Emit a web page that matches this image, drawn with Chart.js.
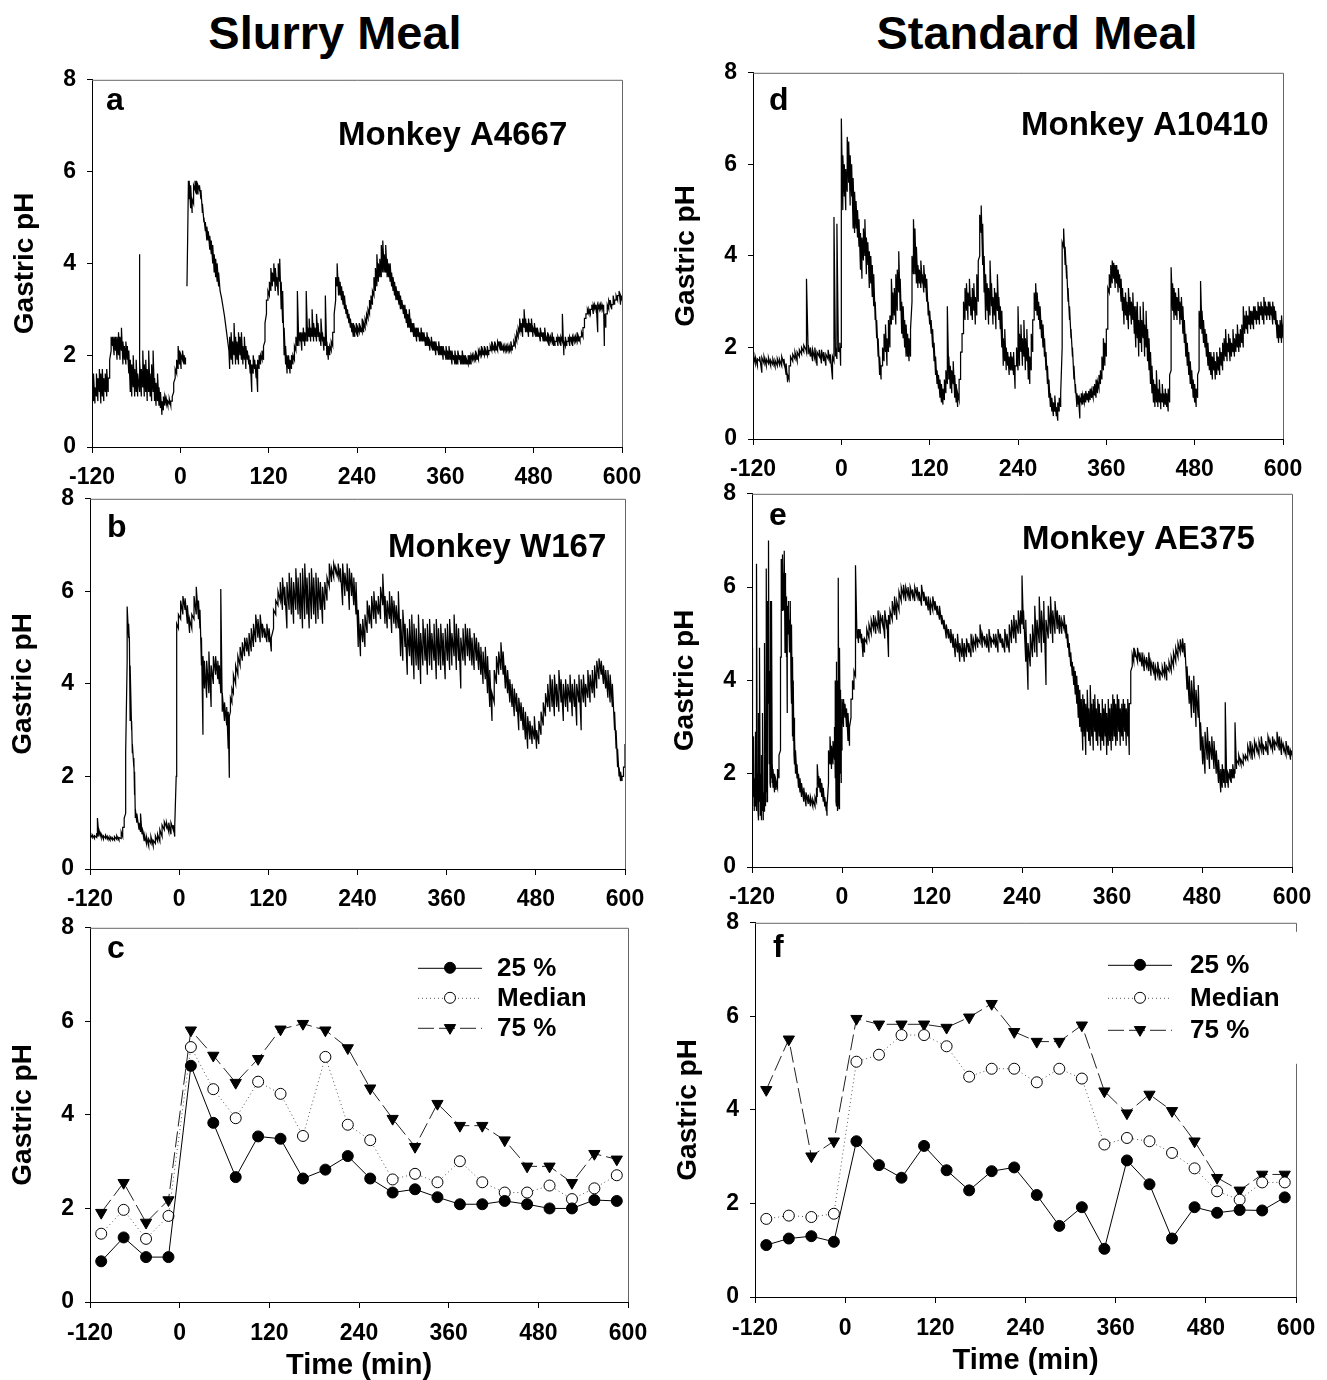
<!DOCTYPE html>
<html>
<head>
<meta charset="utf-8">
<script src="https://cdn.jsdelivr.net/npm/chart.js@4.4.1/dist/chart.umd.min.js"></script>
<style>
  body { margin: 0; background: #fff; width: 1327px; height: 1380px; position: relative; overflow: hidden; }
  .head { position: absolute; top: 9px; width: 600px; text-align: center; font: bold 47px 'Liberation Sans', Arial, sans-serif; line-height: 47px; color: #000; }
  canvas { position: absolute; }
</style>
</head>
<body>
<div class="head" style="left:35px">Slurry Meal</div>
<div class="head" style="left:737px">Standard Meal</div>
<script>
// axis ticks
const xTickValues = [-120, 0, 120, 240, 360, 480, 600];
const yTickValues = [0, 2, 4, 6, 8];

// sample times of the quartile curves (min)
const quartileTimes = [-105, -75, -45, -15, 15, 45, 75, 105, 135, 165, 195, 225, 255, 285, 315, 345, 375, 405, 435, 465, 495, 525, 555, 585];
const quartileLabels = ['25 %', 'Median', '75 %'];

// panel c - slurry meal
const slurry25 = [0.87, 1.38, 0.96, 0.96, 5.05, 3.83, 2.67, 3.54, 3.49, 2.64, 2.83, 3.12, 2.64, 2.34, 2.41, 2.24, 2.09, 2.09, 2.16, 2.09, 2.0, 2.0, 2.18, 2.16];
const slurryMedian = [1.46, 1.97, 1.35, 1.84, 5.45, 4.55, 3.93, 4.71, 4.45, 3.55, 5.24, 3.79, 3.46, 2.62, 2.74, 2.56, 3.01, 2.56, 2.34, 2.34, 2.49, 2.2, 2.43, 2.71];
const slurry75 = [1.91, 2.55, 1.7, 2.18, 5.81, 5.27, 4.69, 5.2, 5.83, 5.95, 5.81, 5.43, 4.57, 3.92, 3.32, 4.24, 3.77, 3.77, 3.46, 2.9, 2.9, 2.55, 3.17, 3.05];

// panel f - standard meal
const standard25 = [1.11, 1.25, 1.3, 1.18, 3.33, 2.82, 2.55, 3.23, 2.71, 2.28, 2.69, 2.77, 2.18, 1.52, 1.92, 1.03, 2.92, 2.41, 1.25, 1.92, 1.8, 1.86, 1.85, 2.13];
const standardMedian = [1.67, 1.74, 1.71, 1.78, 5.03, 5.18, 5.6, 5.6, 5.36, 4.71, 4.88, 4.88, 4.59, 4.88, 4.67, 3.26, 3.4, 3.33, 3.08, 2.75, 2.26, 2.08, 2.45, 2.45];
const standard75 = [4.43, 5.51, 3.01, 3.33, 5.95, 5.83, 5.83, 5.83, 5.76, 5.98, 6.27, 5.67, 5.46, 5.46, 5.81, 4.4, 3.93, 4.33, 3.98, 3.33, 2.55, 2.28, 2.62, 2.62];

// pH recordings: [time, low, high] of the noise band, [time, value], or [time, null] for a gap
const traceA4667 = [
[-120,1.1,1.4],[-118,1.0,1.6],[-116,0.95,1.3],[-114,1.1,1.6],[-112,1.0,1.5],[-110,1.2,1.7],[-108,0.95,1.6],[-106,1.1,1.7],[-104,1.0,1.5],[-102,1.2,1.6],[-100,1.1,1.7],[-98,1.2,1.5],
[-96,1.5,1.9],[-94,2.1,2.4],[-92,2.2,2.4],[-90,2.0,2.4],[-88,2.1,2.4],[-86,1.9,2.4],[-84,2.0,2.5],[-82,1.9,2.4],[-80,2.1,2.6],[-78,1.8,2.3],[-76,1.9,2.2],[-74,1.8,2.3],[-72,1.9,2.2],[-70,1.6,2.1],
[-68,1.2,1.9],[-66,1.1,1.8],[-64,1.3,2.0],[-62,1.1,1.7],[-60,1.2,1.9],[-58,1.1,1.6],[-56,1.3,4.2],[-55,1.2,1.9],[-53,1.1,1.7],[-51,1.3,2.1],[-49,1.1,1.8],[-47,1.2,1.9],[-45,1.0,1.7],[-43,1.2,2.1],[-41,1.1,1.6],[-39,1.0,1.8],[-37,1.2,2.1],[-35,1.0,1.5],[-33,0.9,1.4],[-31,1.0,1.6],[-29,0.9,1.3],
[-27,0.85,1.2],[-25,0.7,1.0],[-23,0.8,1.1],[-21,0.9,1.1],[-19,0.95,1.05],[-17,0.9,1.0],[-15,0.95,1.05],[-13,0.9,1.0],[-11,1.0,1.1],
[-9,1.2,1.4],[-7,1.5,1.7],[-5,1.6,1.9],[-3,1.7,2.2],[-1,1.8,2.1],[1,1.7,2.0],[3,1.9,2.1],[5,1.8,2.0],[7,1.8,1.95],[8,null],
[9,3.5],[10,4.6],[11,5.8],[12,5.4,5.8],[14,5.2,5.7],[16,5.1,5.4],[18,5.3,5.7],[20,5.6,5.8],[22,5.5,5.8],[24,5.5,5.7],[26,5.6,5.7],[28,5.4,5.6],[30,5.1,5.3],[32,4.9,5.0],[34,4.7,4.9],[36,4.5,4.8],[38,4.5,4.7],[40,4.3,4.6],[42,4.2,4.5],[44,4.0,4.4],[46,3.8,4.2],[48,3.7,4.1],[50,3.6,4.0],[52,3.5,3.8],
[54,3.4],[56,3.25],[58,3.05],[60,2.85],[62,2.6],[64,2.35],[66,2.1],
[67,1.7,2.4],[69,1.9,2.5],[71,1.8,2.3],[73,2.0,2.7],[75,1.8,2.4],[77,1.9,2.3],[79,1.8,2.5],[81,2.0,2.4],[83,1.9,2.5],[85,1.8,2.2],[87,1.9,2.4],[89,1.7,2.2],[91,1.9,2.1],[93,1.8,2.0],
[95,1.6,1.9],[97,1.2,1.8],[99,1.6,2.0],[101,1.7,1.9],[103,1.5,1.8],[105,1.2,1.9],[107,1.7,2.0],[109,1.8,2.0],[111,1.9,2.1],[113,1.9,2.2],
[115,2.3,2.7],[117,2.9,3.2],[119,3.2,3.4],
[121,3.3,3.6],[123,3.4,3.9],[125,3.5,3.8],[127,3.6,4.0],[129,3.4,3.9],[131,3.5,3.7],[133,3.3,4.0],[135,3.6,4.1],[137,3.0,3.6],[139,2.7,3.4],
[141,2.0,2.6],[143,1.8,2.2],[145,1.6,2.0],[147,1.7,2.0],[149,1.6,1.9],[151,1.7,2.0],[153,1.8,2.0],[155,1.9,2.2],
[157,2.1,2.4],[159,2.2,3.4],[161,2.2,2.5],[163,2.3,2.5],[165,2.1,2.5],[167,2.3,2.6],[169,2.2,2.5],[171,2.3,3.4],[173,2.3,2.6],[175,2.4,2.8],[177,2.3,2.6],[179,2.4,3.0],[181,2.3,2.7],[183,2.4,2.6],[185,2.3,2.9],[187,2.4,2.7],[189,2.3,2.5],[191,2.2,2.8],[193,2.3,2.5],[195,2.1,2.4],[197,2.2,3.3],[199,2.0,2.3],[201,1.9,2.2],[203,2.0,2.2],[205,2.1,2.3],[207,2.2,2.5],[209,2.5,2.9],
[211,3.2,3.7],[213,3.5,4.0],[215,3.3,3.7],[217,3.3,3.6],[219,3.2,3.5],[221,3.1,3.4],[223,3.0,3.3],[225,2.9,3.1],[227,2.8,3.0],[229,2.7,2.9],[231,2.6,2.8],[233,2.5,2.7],[235,2.4,2.7],[237,2.4,2.6],[239,2.5,2.7],[241,2.4,2.6],[243,2.5,2.7],[245,2.5,2.6],[247,2.5,2.8],[249,2.5,2.7],[251,2.6,2.8],[253,2.7,2.9],
[255,2.8,3.0],[257,2.9,3.2],[259,3.0,3.3],[261,3.1,3.4],
[263,3.3,3.7],[265,3.4,3.9],[267,3.5,4.2],[269,3.6,4.0],[271,3.7,4.1],[273,3.7,4.4],[275,3.8,4.5],[277,3.8,4.2],[279,3.8,4.4],[281,3.7,4.1],[283,3.7,4.0],[285,3.6,4.0],[287,3.5,3.8],[289,3.4,3.7],
[291,3.3,3.6],[293,3.2,3.5],[295,3.2,3.4],[297,3.1,3.4],[299,3.0,3.3],[301,3.0,3.2],[303,2.9,3.1],[305,2.8,3.1],[307,2.7,3.0],[309,2.6,2.9],[311,2.6,3.0],[313,2.5,2.8],[315,2.5,2.7],[317,2.4,2.7],[319,2.4,2.6],[321,2.3,2.6],[323,2.4,2.6],[325,2.3,2.5],[327,2.3,2.6],[329,2.3,2.5],
[331,2.3,2.5],[333,2.2,2.4],[335,2.2,2.5],[337,2.2,2.4],[339,2.1,2.3],[341,2.2,2.4],[343,2.1,2.3],[345,2.1,2.3],[347,2.0,2.3],[349,2.1,2.2],[351,2.0,2.3],[353,2.0,2.2],[355,2.0,2.2],
[357,1.9,2.2],[359,2.0,2.1],[361,1.9,2.2],[363,1.9,2.1],[365,1.9,2.2],[367,1.9,2.1],[369,1.8,2.1],[371,1.9,2.0],[373,1.8,2.1],[375,1.8,2.0],[377,1.8,2.1],[379,1.9,2.0],[381,1.8,2.0],[383,1.8,2.1],[385,1.8,2.0],[387,1.8,2.0],[389,1.8,1.9],[391,1.8,2.0],[393,1.8,2.0],[395,1.8,2.0],[397,1.9,2.0],[399,1.9,2.0],[401,1.9,2.1],[403,1.9,2.0],[405,1.9,2.1],[407,2.0,2.1],[409,2.0,2.2],[411,2.0,2.1],
[413,2.0,2.2],[415,2.0,2.1],[417,2.0,2.2],[419,2.0,2.1],[421,2.1,2.2],[423,2.1,2.3],[425,2.1,2.2],[427,2.1,2.3],[429,2.1,2.2],[431,2.1,2.3],[433,2.2,2.3],[435,2.1,2.3],[437,2.1,2.2],[439,2.1,2.2],[441,2.1,2.2],[443,2.1,2.2],[445,2.1,2.2],[447,2.1,2.2],[449,2.1,2.3],[451,2.1,2.2],[453,2.2,2.3],[455,2.2,2.4],
[457,2.3,2.5],[459,2.4,2.6],[461,2.5,2.8],[463,2.5,2.7],[465,2.4,2.8],[467,2.6,3.0],[469,2.5,2.8],[471,2.5,2.7],[473,2.4,2.8],[475,2.5,2.7],[477,2.5,2.8],[479,2.4,2.6],[481,2.5,2.7],[483,2.4,2.6],
[485,2.4,2.6],[487,2.4,2.5],[489,2.3,2.6],[491,2.4,2.5],[493,2.3,2.5],[495,2.3,2.6],[497,2.3,2.4],[499,2.3,2.5],[501,2.2,2.4],[503,2.3,2.4],[505,2.3,2.5],[507,2.2,2.4],[509,2.2,2.3],[511,2.3,2.4],[513,2.2,2.4],[515,2.3,2.4],[517,2.2,2.4],[519,2.3,2.9],[521,2.0,2.3],
[523,2.2,2.4],[525,2.2,2.3],[527,2.3,2.4],[529,2.2,2.4],[531,2.3,2.4],[533,2.2,2.4],[535,2.3,2.4],[537,2.3,2.4],[539,2.3,2.5],[541,2.3,2.4],[543,2.3,2.4],[545,2.4,2.5],[547,2.4,2.6],
[549,2.6,2.8],[551,2.8,2.9],[553,2.9,3.0],[555,2.9,3.0],[557,2.9,3.0],[559,3.0,3.1],
[561,2.9,3.1],[563,3.0,3.1],[565,3.0,3.1],[567,2.5,3.1],[569,3.0,3.1],[571,3.0,3.1],[573,3.0,3.1],[575,3.0,3.1],[576,2.2,2.9],[578,2.6,2.9],
[580,2.9,3.1],[582,3.0,3.2],[584,3.1,3.2],[586,3.0,3.1],[588,3.1,3.3],[590,3.1,3.2],[592,3.2,3.3],[594,3.2,3.3],[596,3.3,3.4],[598,3.1,3.3],[600,3.2,3.3]
];

const traceW167 = [
[-120,0.7,0.75],[-117,0.68,0.74],[-114,0.66,0.72],[-111,0.68,0.78],[-110,0.7,1.1],[-108,0.7,0.85],[-105,0.68,0.76],[-102,0.65,0.72],[-99,0.66,0.73],[-96,0.64,0.7],[-93,0.62,0.7],[-90,0.63,0.68],[-87,0.62,0.7],[-84,0.64,0.72],[-81,0.62,0.68],[-78,0.66,0.8],[-76,0.7,0.9],
[-74,0.9,1.1],[-72,1.2,2.5],[-70,4.5,5.67],[-68,5.0,5.3],[-67,4.9,5.0],[-66,3.2,4.4],[-64,3.0,3.2],[-63,2.5,2.7],[-61,2.2,2.4],[-60,1.6,2.1],[-59,1.1,1.3],
[-57,1.0,1.2],[-54,0.85,1.0],[-52,0.8,1.2],[-50,0.75,0.9],[-47,0.6,0.75],[-44,0.55,0.7],
[-41,0.5,0.65],[-38,0.55,0.7],[-35,0.5,0.62],[-32,0.55,0.72],[-29,0.6,0.75],[-26,0.6,0.85],
[-23,0.7,0.95],[-20,0.85,1.02],[-17,0.9,1.0],[-14,0.8,1.0],[-11,0.75,1.0],[-8,0.85,0.95],[-6,0.7,0.9],
[-4,2.0,4.8],[-3,5.0,5.3],[-1,5.2,5.5],[2,5.4,5.8],[5,5.5,5.9],[8,5.6,5.85],[11,5.3,5.7],[14,5.1,5.4],[17,5.2,5.5],[20,5.4,5.9],[23,5.5,6.1],[26,5.4,5.8],[28,5.2,5.6],
[30,4.4,5.0],[32,2.9,4.6],[34,3.9,4.5],
[37,3.7,4.5],[40,3.8,4.7],[43,3.5,4.4],[46,4.0,4.6],[49,4.2,4.6],[52,4.1,4.5],[54,4.0,4.4],[56,3.8,6.05],[58,3.4,3.8],[61,3.2,3.6],[64,3.1,3.5],[66,2.6,3.4],[67.5,1.97,3.3],[69,3.4,3.7],
[71,3.6,3.9],[73,3.8,4.2],[76,4.0,4.4],[79,4.2,4.6],[82,4.4,4.8],
[85,4.5,4.9],[88,4.6,5.0],[91,4.7,5.0],[94,4.6,5.1],[97,4.7,5.2],[100,4.8,5.3],
[103,4.9,5.5],[106,5.0,5.4],[109,4.9,5.5],[112,5.0,5.3],[115,5.0,5.2],[118,4.9,5.3],[121,4.9,5.2],[124,4.7,5.0],
[127,5.2,5.6],[130,5.5,5.8],[133,5.7,6.0],[136,5.8,6.2],
[139,5.6,6.3],[142,5.7,6.1],[145,5.2,6.2],[148,5.6,6.4],[151,5.5,6.3],[154,5.3,6.2],[157,5.6,6.5],[160,5.5,6.3],[163,5.4,6.4],
[166,5.2,6.5],[169,5.4,6.6],[172,5.5,6.3],[175,5.2,6.4],[178,5.4,6.5],[181,5.5,6.3],[184,5.3,6.4],[187,5.4,6.3],[190,5.6,6.2],[193,5.3,6.1],[196,5.6,6.2],[199,5.8,6.3],[202,6.1,6.6],[205,6.2,6.5],
[208,6.3,6.6],[211,6.4,6.5],[214,6.3,6.6],[217,6.2,6.5],[220,5.7,6.6],[223,5.9,6.4],[226,6.0,6.6],[229,5.6,6.5],[232,5.9,6.4],[235,5.7,6.3],[238,5.5,6.2],
[241,4.8,5.6],[244,4.6,5.3],[247,4.9,5.4],[250,4.8,5.5],
[253,5.1,5.8],[256,5.3,5.7],[259,5.2,5.9],[262,5.4,6.0],[265,5.3,5.8],[268,5.5,5.9],[271,5.4,6.1],[274,5.7,6.38],
[277,5.3,5.9],[280,5.2,5.8],[283,5.4,6.0],[286,5.1,5.9],[289,5.3,5.8],[292,5.2,5.7],[295,5.2,6.0],
[298,4.6,5.4],[301,4.5,5.6],[304,4.8,5.3],[307,4.2,5.2],[310,4.6,5.4],[313,4.4,5.5],
[316,4.1,5.3],[319,4.4,5.2],[322,4.3,5.5],[325,4.0,5.1],[328,4.4,5.4],[331,4.5,5.2],[334,4.2,5.3],[337,4.4,5.4],[340,4.3,5.1],[343,4.5,5.3],[346,4.1,5.4],[349,4.4,5.2],[352,4.3,5.3],[355,4.4,5.1],[358,4.1,5.2],[361,4.5,5.3],[364,4.3,5.4],[367,4.4,5.1],[370,4.6,5.5],[373,4.3,5.3],[376,4.5,5.2],[379,3.9,5.0],[382,4.5,5.2],[385,4.4,5.3],[388,4.6,5.2],
[391,4.5,5.2],[394,4.4,5.0],[397,4.3,5.1],[400,4.5,5.0],[403,4.3,4.9],[406,4.2,4.8],[409,4.0,4.7],[412,4.1,4.8],[415,3.8,4.6],
[418,3.5,4.3],[421,3.2,3.8],[424,3.6,4.3],
[427,4.0,4.6],[430,4.2,4.7],[433,4.3,4.9],[436,4.2,4.7],
[439,3.9,4.4],[442,3.8,4.3],[445,3.6,4.1],[448,3.5,4.0],[451,3.3,3.9],[454,3.4,3.8],[457,3.0,3.7],[460,3.2,3.6],[463,3.0,3.5],
[466,2.8,3.4],[469,2.6,3.3],[472,2.8,3.2],[475,2.7,3.1],[478,2.8,3.3],[481,2.6,3.0],[484,2.7,3.2],[487,2.9,3.4],
[490,3.1,3.6],[493,3.3,3.8],[496,3.5,4.0],[499,3.4,4.2],
[502,3.5,4.1],[505,3.3,4.2],[508,3.5,4.0],[511,3.4,4.3],[514,3.6,4.1],[517,3.2,4.0],[520,3.5,4.1],[523,3.4,4.0],[526,3.6,4.2],[529,3.3,4.0],[532,3.5,4.1],[535,3.1,4.0],[538,3.6,4.2],[541,3.0,4.1],[544,3.6,4.2],[547,3.5,4.0],[550,3.7,4.3],[553,3.6,4.2],[556,3.8,4.3],[559,3.7,4.4],[562,3.9,4.5],
[565,4.1,4.55],[568,4.2,4.5],[571,4.0,4.4],[574,3.9,4.3],[577,3.7,4.3],[580,3.6,4.2],[583,3.5,4.0],
[586,3.0,3.4],[588,2.6,3.0],[590,2.2,2.6],[592,2.0,2.2],[594,1.9,2.1],[596,1.9,2.0],[598,2.0,2.2],[600,2.2,2.7]
];

const traceA10410 = [
[-120,1.7,1.85],[-117,1.65,1.8],[-114,1.6,1.75],[-111,1.7,1.8],[-108,1.45,1.78],[-105,1.65,1.8],[-102,1.6,1.75],[-99,1.65,1.78],[-96,1.6,1.72],[-93,1.62,1.75],[-90,1.58,1.72],[-87,1.6,1.76],[-84,1.62,1.74],[-81,1.6,1.8],[-78,1.64,1.75],
[-75,1.4,1.65],[-73,1.24,1.4],[-71,1.3,1.6],[-69,1.6,1.8],
[-66,1.7,1.85],[-63,1.75,1.9],[-60,1.7,1.9],[-57,1.8,1.95],[-54,1.85,2.0],[-51,1.9,2.05],[-48,1.95,2.05],[-47,1.9,3.5],
[-45,1.85,2.05],[-42,1.8,2.0],[-39,1.7,1.95],[-36,1.75,2.0],[-33,1.6,1.9],[-30,1.8,1.95],[-27,1.65,1.95],[-24,1.7,1.9],[-21,1.6,1.85],[-18,1.75,1.95],[-15,1.65,1.85],[-12,1.3,1.8],
[-10,1.7,4.85],[-8,1.8,2.0],[-6,1.75,4.7],[-4,1.9,2.0],[-2,1.9,2.1],[-1,1.6,2.0],
[0,2.0,7.0],[2,5.0,6.2],[4,5.3,6.0],[6,5.0,5.9],[8,5.4,6.6],[10,5.6,6.5],[12,5.1,6.2],[14,5.3,6.0],[16,4.6,5.7],[18,4.5,5.4],[20,4.6,5.2],[22,4.4,5.0],[24,4.2,4.8],
[26,3.7,4.5],[28,3.5,4.4],[30,3.9,4.6],[32,4.0,4.8],[34,3.6,4.4],[36,3.8,4.3],[38,3.3,4.1],[40,3.4,4.0],[42,3.1,3.8],[44,2.9,3.6],
[46,2.6,3.0],[48,2.2,2.6],[50,1.8,2.2],[52,1.4,1.8],[54,1.3,1.6],
[56,1.6,2.0],[58,1.7,2.3],[60,1.9,2.5],[62,1.6,2.2],[64,1.9,2.6],[66,2.0,2.7],
[68,2.5,3.5],[70,2.6,3.2],[72,2.7,3.3],[74,2.5,3.6],[76,2.8,3.7],[78,3.2,4.1],[80,2.8,3.5],
[82,2.3,3.0],[84,2.2,2.9],[86,2.0,2.6],[88,1.8,2.5],[90,1.8,2.3],[92,1.7,2.2],[94,1.8,2.4],
[96,3.0,4.0],[98,3.6,4.8],[100,3.6,4.6],[102,3.4,4.2],
[104,3.3,3.8],[106,3.4,3.7],[108,3.3,3.9],[110,3.4,3.6],[112,3.2,3.8],[114,3.3,3.6],[116,3.0,3.5],
[118,2.7,3.0],[120,2.5,2.8],[122,2.3,2.6],[124,2.0,2.4],[126,1.7,2.1],[128,1.4,1.8],[130,1.2,1.5],[132,1.1,1.4],[134,0.9,1.3],
[136,0.8,1.2],[138,0.75,1.1],[140,0.85,1.3],[142,1.0,1.5],
[144,1.2,2.9],[146,1.3,1.8],
[148,1.1,1.6],[150,1.0,1.5],[152,1.2,1.7],[154,0.9,1.4],[156,0.8,1.2],[158,0.7,1.0],[160,0.85,1.3],[162,1.3,1.9],
[164,1.9,2.3],[166,2.3,3.0],[168,2.6,3.3],[170,2.8,3.4],[172,2.6,3.2],[174,2.9,3.5],[176,2.7,3.1],[178,2.6,3.3],[180,2.8,3.4],[182,2.5,3.1],[184,2.7,3.6],[186,3.0,3.9],
[188,4.0,4.9],[190,4.5,5.1],[192,3.8,4.7],[194,3.2,4.0],
[196,2.6,3.6],[198,2.8,3.4],[200,2.5,3.3],[202,2.7,3.9],[204,2.9,3.4],[206,2.5,3.1],[208,2.7,3.3],[210,2.4,3.2],[212,2.8,3.6],[214,2.6,3.1],[216,2.4,2.9],[218,2.0,2.8],
[220,1.6,2.2],[222,1.7,2.4],[224,1.5,2.0],[226,1.6,1.9],[228,1.4,1.8],[230,1.5,1.9],[232,1.5,1.8],[234,1.4,1.9],[236,1.1,1.6],[238,1.6,2.0],
[240,1.5,2.9],[242,1.6,2.3],[244,1.9,2.5],[246,1.6,2.2],
[248,1.8,2.6],[250,1.5,2.2],[252,1.7,2.4],[254,1.3,2.0],[256,1.2,1.8],[258,1.5,2.3],[260,1.9,2.6],
[262,2.6,3.2],[264,2.8,3.4],[266,2.7,3.2],[268,2.6,3.0],
[270,2.4,2.9],[272,2.2,2.6],[274,2.0,2.5],[276,1.8,2.2],[278,1.5,1.9],[280,1.2,1.6],[282,0.9,1.3],
[284,0.7,1.0],[286,0.6,0.9],[288,0.5,0.8],[290,0.6,0.95],[292,0.5,0.7],[294,0.4,0.8],[296,0.6,0.9],[298,0.7,1.0],
[300,2.0,4.3],[302,4.2,4.6],[304,3.8,4.2],
[306,3.5,3.8],[308,3.0,3.3],[310,2.6,2.9],[312,2.2,2.4],[314,1.8,2.0],[316,1.3,1.6],[318,1.0,1.2],
[320,0.7,1.0],[322,0.75,0.95],[324,0.45,0.9],[326,0.8,1.0],[328,0.75,0.95],[330,0.8,1.0],[332,0.8,1.05],[334,0.85,1.0],[336,0.8,1.05],[338,0.85,1.1],[340,0.9,1.05],[342,0.9,1.15],[344,0.95,1.2],[346,0.9,1.3],[348,1.0,1.25],[350,1.1,1.4],[352,1.2,1.5],[354,1.3,1.8],
[356,1.5,2.2],[358,1.6,2.1],[360,1.8,2.4],[362,2.4,3.3],[364,3.2,3.6],[366,3.3,3.8],
[368,3.4,3.9],[370,3.5,3.85],[372,3.3,3.8],[374,3.4,3.8],[376,3.2,3.7],[378,3.3,3.6],[380,3.0,3.5],
[382,2.8,3.3],[384,2.5,3.1],[386,2.7,3.2],[388,2.6,3.0],[390,2.4,3.3],[392,2.7,3.1],[394,2.5,3.0],[396,2.6,3.2],[398,2.3,2.9],
[400,2.0,2.9],[402,2.2,3.0],[404,1.8,2.6],[406,2.1,2.9],[408,1.9,2.6],[410,2.2,3.0],[412,1.8,2.5],[414,2.0,2.8],[416,1.7,2.4],[418,1.5,2.2],[420,1.2,1.9],[422,1.0,1.6],
[424,0.8,1.3],[426,0.7,1.2],[428,0.8,1.5],[430,0.7,1.1],[432,0.8,1.3],[434,0.65,1.0],[436,0.8,1.2],[438,0.7,1.0],[440,0.75,1.1],[442,0.7,1.0],[444,0.6,1.1],[446,0.8,1.4],
[448,1.5,3.75],[450,2.8,3.4],[452,2.6,3.3],[454,2.7,3.2],[456,2.6,3.1],[458,2.8,3.3],[460,2.5,3.0],[462,2.6,3.1],[464,2.3,2.9],
[466,2.1,2.6],[468,1.8,2.3],[470,1.6,2.1],[472,1.4,1.9],[474,1.2,1.7],[476,1.1,1.5],[478,0.9,1.3],[480,0.8,1.2],[482,0.7,1.1],
[484,0.9,1.4],[486,1.5,2.8],[488,2.4,3.45],[490,2.3,2.8],
[492,2.1,2.6],[494,2.0,2.4],[496,1.8,2.3],[498,1.6,2.1],[500,1.5,1.9],
[502,1.4,1.9],[504,1.3,1.8],[506,1.5,1.9],[508,1.3,1.7],[510,1.4,1.9],[512,1.5,1.8],[514,1.4,2.0],[516,1.6,1.9],[518,1.5,2.1],
[520,1.7,2.2],[522,1.8,2.4],[524,1.7,2.1],[526,1.9,2.3],[528,1.7,2.2],[530,1.8,2.1],[532,1.9,2.4],[534,1.8,2.2],[536,1.9,2.3],[538,2.0,2.5],[540,1.9,2.3],[542,2.0,2.4],[544,2.1,2.5],[546,2.0,2.9],
[548,2.3,2.7],[550,2.4,2.8],[552,2.3,2.7],[554,2.5,2.9],[556,2.4,2.8],[558,2.5,2.8],[560,2.4,2.9],[562,2.6,2.9],[564,2.5,2.8],[566,2.6,3.0],[568,2.5,2.9],[570,2.7,3.0],[572,2.6,2.9],[574,2.5,3.1],[576,2.7,3.0],[578,2.6,2.9],[580,2.7,3.0],[582,2.6,3.0],[584,2.7,2.9],[586,2.5,3.0],[588,2.6,2.9],[590,2.5,2.8],
[592,2.2,2.6],[594,2.1,2.5],[596,2.2,2.6],[598,2.1,2.7],[600,2.2,2.5]
];

const traceAE375 = [
[-120,1.4,4.7],[-119,1.3,2.0],[-118,1.5,2.8],[-117,1.2,1.9],[-116,1.6,2.9],[-115,1.3,1.8],[-114,1.2,6.5],[-113,1.5,2.0],[-112,1.2,3.3],[-111,1.0,1.8],[-110,1.4,4.7],[-109,1.1,2.0],[-108,1.3,2.4],[-107,1.0,1.7],[-106,1.2,3.3],[-105,1.0,1.6],[-104,1.2,2.2],[-103,1.4,4.8],[-102,1.3,1.9],[-101,1.6,6.4],[-100,1.4,2.8],[-99,2.0,5.7],[-98,3.5,7.0],[-97,2.2,4.2],[-96,1.8,5.7],[-95,1.7,2.6],[-94,1.9,5.7],[-93,1.8,2.2],[-92,1.7,2.1],[-90,1.6,2.0],[-88,1.65,1.85],[-86,1.7,2.1],[-84,1.9,2.4],[-82,2.5,4.5],
[-81,4.5,6.6],[-80,5.5,6.2],[-79,5.7,6.7],[-78,5.5,6.3],[-77,5.8,6.78],[-76,4.6,6.3],[-75,5.0,6.0],[-74,4.5,5.8],[-73,3.3,5.6],[-72,5.0,5.7],[-71,5.2,5.5],[-70,4.6,5.3],[-69,4.9,5.7],[-68,4.0,5.2],
[-67,3.5,5.2],[-66,2.8,4.5],[-65,2.7,4.0],[-64,2.4,3.2],[-63,2.2,2.8],[-62,2.0,2.5],
[-60,1.9,2.2],[-58,1.7,2.0],[-56,1.6,1.9],[-54,1.5,1.8],
[-51,1.4,1.7],[-48,1.3,1.6],[-45,1.35,1.55],[-42,1.3,1.5],[-39,1.3,1.45],[-36,1.3,1.5],
[-34,1.4,1.7],[-33,1.5,2.2],[-31,1.7,1.95],[-29,1.6,1.9],[-27,1.5,1.8],[-25,1.4,1.7],[-23,1.3,1.5],[-21,1.2,1.4],[-20,1.1,1.3],
[-18,1.8,2.5],[-16,2.2,2.8],[-14,2.1,2.6],[-12,2.2,2.7],[-10,2.3,3.0],
[-9,1.9,4.0],[-8,1.4,4.4],[-7,1.3,3.5],[-6,1.2,4.0],[-5,1.3,6.2],[-4,1.25,2.6],[-3,1.4,4.7],[-2,2.0,3.8],[-1,1.8,3.0],[0,2.5,3.6],
[2,3.0,3.6],[4,3.2,3.5],[6,3.0,3.4],[8,2.7,3.3],[10,2.6,3.0],[12,3.2,3.6],[14,3.6,4.0],[16,3.8,4.2],[18,4.1,6.47],[20,4.9,5.1],[22,4.8,5.1],[24,4.9,5.1],[26,4.8,5.0],[28,4.5,4.9],[30,4.6,4.9],[33,4.8,5.1],[36,4.9,5.2],[39,5.0,5.3],[42,5.1,5.4],[45,5.0,5.3],[48,5.1,5.5],[51,5.0,5.4],[54,5.2,5.4],[57,4.9,5.5],[60,5.1,5.3],[62,4.5,5.4],[64,5.2,5.5],
[67,5.3,5.7],[70,5.4,5.8],[73,5.3,5.7],[76,5.5,5.9],
[79,5.7,6.0],[82,5.8,6.05],[85,5.7,6.0],[88,5.8,6.0],[91,5.7,6.0],[94,5.8,5.95],[97,5.7,6.0],[100,5.8,6.0],[103,5.7,5.9],[106,5.6,6.05],[109,5.7,5.9],[112,5.6,5.8],
[115,5.5,5.8],[118,5.4,5.7],[121,5.5,5.8],[124,5.5,5.7],[127,5.4,5.6],[130,5.3,5.6],
[133,5.2,5.4],[136,5.1,5.3],[139,4.9,5.2],[142,4.9,5.1],[145,4.8,5.1],[148,4.7,5.0],
[151,4.5,4.9],[154,4.6,5.0],[157,4.4,4.8],[160,4.5,4.9],[163,4.4,4.8],[166,4.5,4.9],[169,4.6,4.8],[172,4.5,5.0],[175,4.6,4.9],[178,4.7,5.0],[181,4.7,4.9],[184,4.8,5.2],
[187,4.7,5.0],[190,4.8,4.95],[193,4.7,5.0],[196,4.6,5.1],[199,4.7,4.9],[202,4.8,5.0],[205,4.7,5.0],[208,4.6,5.1],[211,4.8,5.0],[214,4.7,4.9],[217,4.6,5.1],[220,4.7,5.0],[223,4.6,5.2],[226,4.8,5.3],
[229,4.9,5.4],[232,4.8,5.3],[235,5.0,5.5],[238,5.0,5.5],[240,5.2,6.25],[242,5.1,5.5],
[245,4.4,5.3],[248,3.8,4.8],[251,4.3,5.0],[254,4.5,5.2],
[257,4.6,5.6],[260,4.5,5.3],[263,4.8,5.8],[266,4.6,5.5],[269,4.8,5.7],[272,3.9,5.3],
[275,4.9,5.6],[278,5.0,5.8],[281,4.8,5.5],[284,5.0,5.7],[287,5.1,5.5],[290,5.0,5.4],
[293,5.0,5.3],[296,5.1,5.4],[299,4.9,5.2],
[301,4.7,5.0],[303,4.5,4.8],[305,4.3,4.6],[307,4.1,4.4],[309,3.9,4.3],[311,3.7,4.2],
[313,3.5,4.1],[315,3.2,3.9],[317,3.0,3.8],[319,2.9,3.6],
[321,2.5,3.7],[323,2.8,3.6],[325,2.4,3.5],[327,2.9,3.8],[329,2.7,3.4],[331,2.6,3.9],[333,2.8,3.5],[335,2.5,3.6],[337,2.9,3.7],[339,2.7,3.4],[341,2.6,3.6],[343,2.8,3.5],[345,2.5,3.3],[347,2.7,3.6],[349,2.6,3.4],[351,2.8,3.5],[353,2.4,3.3],[355,2.6,3.6],[357,2.7,3.4],[359,2.5,3.5],[361,2.7,3.7],[363,2.8,3.6],[365,2.6,3.5],[367,2.7,3.7],[369,2.9,3.6],[371,2.6,3.4],[373,2.8,3.5],[375,2.7,3.6],[377,2.9,3.5],[379,2.6,3.4],[381,2.8,3.6],[383,2.4,3.5],
[385,3.5,4.2],[387,4.3,4.55],[389,4.4,4.7],[391,4.5,4.6],[394,4.4,4.7],[397,4.4,4.6],
[400,4.3,4.6],[403,4.2,4.5],[406,4.3,4.5],[409,4.2,4.6],[412,4.1,4.4],[415,4.2,4.4],
[418,4.0,4.3],[421,4.1,4.4],[424,4.0,4.2],[427,4.1,4.3],[430,4.1,4.4],[433,4.0,4.3],[436,4.2,4.4],[439,4.2,4.5],
[442,4.3,4.6],[445,4.4,4.7],[448,4.5,4.8],[451,4.6,4.88],[454,4.6,4.9],[457,4.5,4.8],
[460,3.8,4.3],[463,3.5,4.1],[466,3.2,4.0],[469,3.3,4.1],[472,3.0,3.8],[475,3.2,3.9],
[478,2.5,3.1],[481,2.2,2.8],[484,2.0,2.9],[487,2.3,3.0],[490,2.1,2.7],[493,2.3,2.8],
[496,2.1,2.7],[499,2.0,2.5],[502,1.8,2.3],[505,1.6,2.1],[507,1.7,2.2],
[509,1.8,2.1],[511,1.7,3.53],[513,1.8,2.1],[515,1.7,2.0],[517,1.9,2.1],[519,1.8,2.1],[521,1.9,2.2],[523,1.9,2.1],[524,2.0,3.1],[526,2.1,2.3],
[529,2.2,2.4],[532,2.2,2.3],[535,2.2,2.4],[538,2.3,2.4],
[541,2.3,2.6],[544,2.4,2.7],[547,2.3,2.6],[550,2.4,2.7],[553,2.5,2.6],[556,2.4,2.7],[559,2.5,2.8],[562,2.4,2.6],[565,2.5,2.7],[568,2.4,2.8],[571,2.6,2.7],[574,2.5,2.8],[577,2.5,2.7],[580,2.6,2.9],[583,2.5,2.8],
[586,2.4,2.7],[589,2.5,2.6],[592,2.4,2.7],[595,2.4,2.6],[598,2.3,2.5],[600,2.4,2.5]
];

// plot-area boxes on the page
const panelBoxes = {
  a: { left: 92, top: 75, right: 622, bottom: 447 },
  b: { left: 90, top: 494, right: 625, bottom: 869 },
  c: { left: 90, top: 923, right: 628, bottom: 1302 },
  d: { left: 753, top: 68, right: 1283, bottom: 439 },
  e: { left: 752, top: 489, right: 1292, bottom: 867 },
  f: { left: 755, top: 918, right: 1296, bottom: 1297 }
};

const FONT = "'Liberation Sans', Arial, sans-serif";
Chart.defaults.font.family = FONT;
Chart.defaults.font.weight = 'bold';
Chart.defaults.color = '#000';

function traceToPoints(rows) {
  const pts = [];
  rows.forEach(r => {
    if (r[1] === null) { pts.push({ x: r[0], y: null }); return; }
    for (let k = 1; k < r.length; k++) pts.push({ x: r[0], y: r[k] });
  });
  return pts;
}

function quartileSets(lo, mid, hi) {
  const pts = vals => quartileTimes.map((t, i) => ({ x: t, y: vals[i] }));
  return [
    { label: quartileLabels[0], data: pts(lo), borderColor: '#000', borderWidth: 1,
      pointStyle: 'circle', pointRadius: 5.5, pointBackgroundColor: '#000', pointBorderColor: '#000' },
    { label: quartileLabels[1], data: pts(mid), borderColor: '#555', borderWidth: 1, borderDash: [1, 3],
      pointStyle: 'circle', pointRadius: 5.5, pointBackgroundColor: '#fff', pointBorderColor: '#000', pointBorderWidth: 1 },
    { label: quartileLabels[2], data: pts(hi), borderColor: '#222', borderWidth: 1, borderDash: [16, 5],
      pointStyle: 'triangle', pointRotation: 180, pointRadius: 6.5, pointBackgroundColor: '#000', pointBorderColor: '#000' }
  ];
}

function traceSet(rows) {
  return [{ data: traceToPoints(rows), borderColor: '#000', borderWidth: 1.25, pointRadius: 0, spanGaps: false }];
}

// letters, monkey ids, axis titles, frame and the quartile legend
const panelDecor = {
  id: 'panelDecor',
  afterDraw(chart, args, o) {
    const { ctx, chartArea: ca } = chart;
    ctx.save();
    ctx.fillStyle = '#000';
    ctx.textBaseline = 'alphabetic';
    ctx.textAlign = 'left';

    // top / right frame
    ctx.strokeStyle = '#666';
    ctx.lineWidth = 1;
    ctx.beginPath();
    ctx.moveTo(ca.left, ca.top + 0.5);
    ctx.lineTo(ca.right + 0.5, ca.top + 0.5);
    if (o.partialFrame) {
      ctx.lineTo(ca.right + 0.5, ca.top + 9);
      ctx.moveTo(ca.right + 0.5, ca.top + o.partialFrame);
      ctx.lineTo(ca.right + 0.5, ca.bottom);
    } else {
      ctx.lineTo(ca.right + 0.5, ca.bottom);
    }
    ctx.stroke();
    // tick at right end of x axis
    ctx.strokeStyle = '#000';
    ctx.beginPath();
    ctx.moveTo(ca.right + 0.5, ca.bottom);
    ctx.lineTo(ca.right + 0.5, ca.bottom + 6);
    ctx.stroke();

    ctx.font = 'bold 32px ' + FONT;
    ctx.fillText(o.letter, ca.left + o.letterX, ca.top + o.letterY);
    if (o.monkey) {
      ctx.font = 'bold 33px ' + FONT;
      ctx.fillText(o.monkey, ca.left + o.monkeyX, ca.top + o.monkeyY);
    }

    // y title
    ctx.save();
    ctx.translate(ca.left - 67, (ca.top + ca.bottom) / 2);
    ctx.rotate(-Math.PI / 2);
    ctx.textAlign = 'center';
    ctx.textBaseline = 'middle';
    ctx.font = 'bold 28px ' + FONT;
    ctx.fillText('Gastric pH', 0, 0);
    ctx.restore();

    if (o.xTitle) {
      ctx.textAlign = 'center';
      ctx.textBaseline = 'middle';
      ctx.font = 'bold 29px ' + FONT;
      ctx.fillText(o.xTitle, (ca.left + ca.right) / 2, ca.bottom + 64);
    }

    if (o.legend) {
      const lg = o.legend;
      chart.data.datasets.forEach((ds, i) => {
        const y = ca.top + lg.rows[i];
        const x0 = ca.left + lg.x;
        ctx.strokeStyle = ds.borderColor;
        ctx.lineWidth = 1;
        ctx.setLineDash(ds.borderDash || []);
        ctx.beginPath();
        ctx.moveTo(x0, y + 0.5);
        ctx.lineTo(x0 + 64, y + 0.5);
        ctx.stroke();
        ctx.setLineDash([]);
        ctx.fillStyle = ds.pointBackgroundColor;
        ctx.strokeStyle = ds.pointBorderColor;
        Chart.helpers.drawPoint(ctx, { pointStyle: ds.pointStyle, rotation: ds.pointRotation || 0,
          radius: ds.pointRadius, borderWidth: 1 }, x0 + 32, y);
        ctx.fillStyle = '#000';
        ctx.textAlign = 'left';
        ctx.textBaseline = 'middle';
        ctx.font = 'bold 26px ' + FONT;
        ctx.fillText(ds.label, ca.left + lg.textX, y + 1);
      });
    }
    ctx.restore();
  }
};

function makePanel(key, datasets, decor) {
  const box = panelBoxes[key];
  const padTop = 20, padRight = 40, yBox = 92, xBox = 84;
  const w = box.right - box.left + yBox + padRight;
  const h = box.bottom - box.top + padTop + xBox;
  const canvas = document.createElement('canvas');
  canvas.width = w;
  canvas.height = h;
  canvas.style.left = (box.left - yBox) + 'px';
  canvas.style.top = (box.top - padTop) + 'px';
  canvas.style.width = w + 'px';
  canvas.style.height = h + 'px';
  document.body.appendChild(canvas);

  const tickFont = { family: FONT, size: 23, weight: 'bold' };
  return new Chart(canvas, {
    type: 'line',
    data: { datasets },
    options: {
      responsive: false,
      animation: false,
      devicePixelRatio: 1,
      layout: { padding: { left: 0, top: padTop, right: padRight, bottom: 0 } },
      elements: { line: { tension: 0 } },
      plugins: { legend: { display: false }, tooltip: { enabled: false }, panelDecor: decor },
      scales: {
        x: {
          type: 'linear', min: -120, max: 600,
          afterBuildTicks: s => { s.ticks = xTickValues.map(v => ({ value: v })); },
          afterFit: s => { s.height = xBox; },
          grid: { drawOnChartArea: false, drawTicks: true, tickLength: 6, color: '#000' },
          border: { display: true, color: '#000', width: 1 },
          ticks: { font: tickFont, color: '#000', padding: decor.xTitle ? 12 : 11, maxRotation: 0, autoSkip: false }
        },
        y: {
          min: 0, max: 8,
          afterBuildTicks: s => { s.ticks = yTickValues.map(v => ({ value: v })); },
          afterFit: s => { s.width = yBox; },
          grid: { drawOnChartArea: false, drawTicks: true, tickLength: 5, color: '#000' },
          border: { display: true, color: '#000', width: 1 },
          ticks: { font: tickFont, color: '#000', padding: 11 }
        }
      }
    },
    plugins: [panelDecor]
  });
}

makePanel('a', traceSet(traceA4667), { letter: 'a', letterX: 14, letterY: 30, monkey: 'Monkey A4667', monkeyX: 246, monkeyY: 65 });
makePanel('b', traceSet(traceW167), { letter: 'b', letterX: 17, letterY: 38, monkey: 'Monkey W167', monkeyX: 298, monkeyY: 58 });
makePanel('c', quartileSets(slurry25, slurryMedian, slurry75), { letter: 'c', letterX: 17, letterY: 30, xTitle: 'Time (min)',
  legend: { x: 328, textX: 407, rows: [40, 70, 100] } });
makePanel('d', traceSet(traceA10410), { letter: 'd', letterX: 16, letterY: 37, monkey: 'Monkey A10410', monkeyX: 268, monkeyY: 62 });
makePanel('e', traceSet(traceAE375), { letter: 'e', letterX: 17, letterY: 31, monkey: 'Monkey AE375', monkeyX: 270, monkeyY: 55 });
makePanel('f', quartileSets(standard25, standardMedian, standard75), { letter: 'f', letterX: 18, letterY: 34, xTitle: 'Time (min)',
  partialFrame: 141, legend: { x: 353, textX: 435, rows: [42, 75, 107] } });
</script>
</body>
</html>
